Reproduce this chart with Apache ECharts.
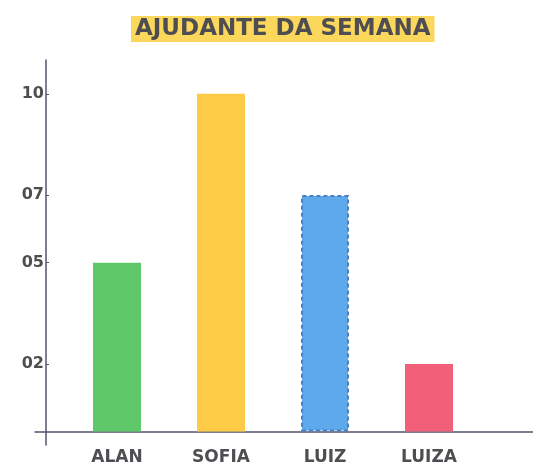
<!DOCTYPE html>
<html>
<head>
<meta charset="utf-8">
<script src="https://cdn.jsdelivr.net/npm/echarts@6/dist/echarts.min.js"></script>
<style>
  html, body { margin: 0; padding: 0; background: #fff; }
  #chart { width: 533px; height: 473px; }
</style>
</head>
<body>
<div id="chart"></div>
<script>
// ===== Data =====
const names = ['ALAN', 'SOFIA', 'LUIZ', 'LUIZA'];
const values = [5, 10, 7, 2];
const barColors = ['#5fc96a', '#fdcb45', '#5ea8ec', '#f15f78'];
const yTicks = [2, 5, 7, 10];

const FONT = '"DejaVu Sans", sans-serif';
const INK = '#4e4e52';
const AXIS = '#50546a';

// ===== Chart =====
const chart = echarts.init(document.getElementById('chart'), null, { renderer: 'canvas' });

chart.setOption({
  backgroundColor: '#ffffff',
  animation: false,
  title: {
    text: 'AJUDANTE DA SEMANA',
    left: 131,
    top: 16,
    padding: [1, 4, 1, 4],
    backgroundColor: '#fbd75c',
    textStyle: { fontFamily: FONT, fontWeight: 'bold', fontSize: 23, color: INK, lineHeight: 24 }
  },
  grid: [
    { left: 65, right: 52, top: 60, bottom: 28, outerBoundsMode: 'none', containLabel: false },
    { left: 35, right: 0, top: 60, bottom: 28, outerBoundsMode: 'none', containLabel: false }
  ],
  xAxis: [
    {
      type: 'category',
      gridIndex: 0,
      data: names,
      axisLine: { show: false },
      axisTick: { show: false },
      axisLabel: { fontFamily: FONT, fontWeight: 'bold', fontSize: 17, color: INK, margin: 4 }
    },
    {
      type: 'value',
      gridIndex: 1,
      min: 0, max: 1,
      axisLine: { show: true, onZero: true, lineStyle: { color: AXIS, width: 1.5 } },
      axisTick: { show: false },
      axisLabel: { show: false },
      splitLine: { show: false }
    }
  ],
  yAxis: [
    {
      type: 'value',
      gridIndex: 0,
      min: -0.4,
      max: 11,
      offset: 19,
      axisLine: { show: true, lineStyle: { color: AXIS, width: 1.5 } },
      axisTick: { show: true, length: 3, inside: true, customValues: yTicks, lineStyle: { color: AXIS } },
      axisLabel: {
        customValues: yTicks,
        margin: 2,
        fontFamily: FONT, fontWeight: 'bold', fontSize: 16, color: INK,
        formatter: v => String(v).padStart(2, '0')
      },
      splitLine: { show: false }
    },
    {
      type: 'value',
      gridIndex: 1,
      min: -0.4,
      max: 11,
      show: false
    }
  ],
  series: [{
    type: 'bar',
    xAxisIndex: 0,
    yAxisIndex: 0,
    barWidth: 48,
    data: values.map((v, i) => ({
      value: v,
      itemStyle: i === 2
        ? { color: barColors[i], borderColor: '#4a80c4', borderWidth: 2, borderType: [4, 3] }
        : { color: barColors[i] }
    }))
  }]
});
</script>
</body>
</html>
